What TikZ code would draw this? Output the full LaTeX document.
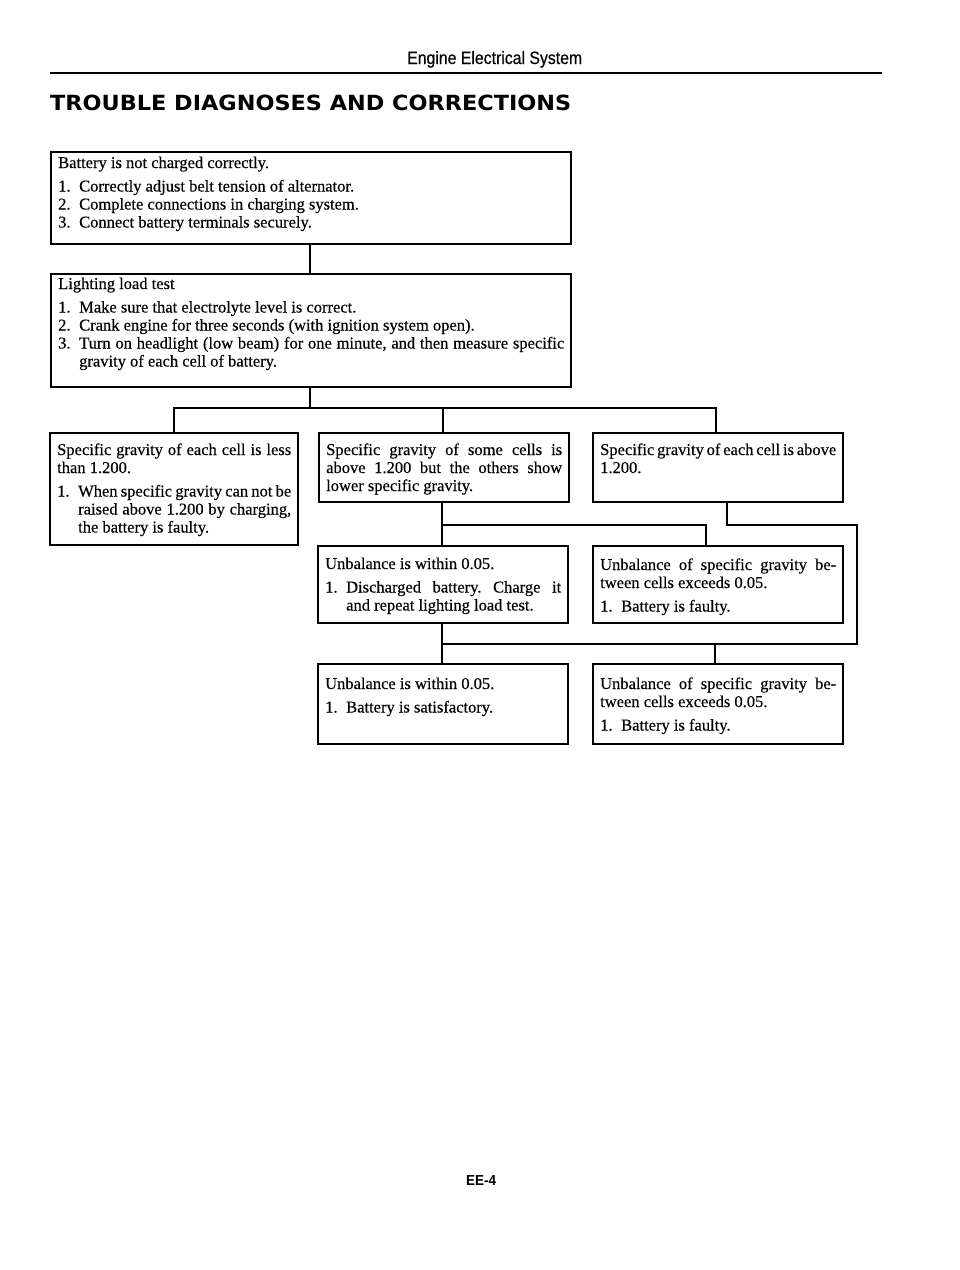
\documentclass[tikz,border=0pt]{standalone}
\usepackage{fontspec}
\setmainfont{Liberation Serif}[UprightFeatures={FakeBold=0.35}]
\newfontfamily\hdfont{Liberation Sans}[UprightFeatures={FakeBold=0.4}]
\newfontfamily\ttlfont{DejaVu Sans}
\usepackage{graphicx}
\frenchspacing

\newlength\numw \setlength\numw{21pt}
\newcommand\bodyfont{\fontsize{16.5}{18}\selectfont}
\newcommand\jl[1]{\hbox to \hsize{#1}}
\newcommand\rl[1]{\hbox to \hsize{#1\hfil}}
\newcommand\nm[1]{\makebox[\numw][l]{#1}}
\newcommand\ind{\hspace*{\numw}}
\newcommand\gap{\vskip 5.5pt}
\newcommand\tb[2]{\vtop{\hsize=#1\relax\bodyfont #2}}

\begin{document}
\begin{tikzpicture}[x=1pt,y=-1pt,
  box/.style={draw, line width=1.7pt, inner sep=0pt},
  txt/.style={inner sep=0pt, anchor=base west},
  conn/.style={line width=1.7pt}]
\useasboundingbox (0,0) rectangle (960,1270);

% header
\node[txt] (hd) at (407,64) {\resizebox{175pt}{13pt}{\hdfont Engine Electrical System}};
\coordinate (r1) at (50,73);
\coordinate (r2) at (882,73);
\draw[line width=2.5pt] (r1) -- (r2);
\node[txt] (ttl) at (50,110) {\resizebox{521pt}{15.5pt}{\ttlfont\bfseries TROUBLE DIAGNOSES AND CORRECTIONS}};

% boxes
\node[box, minimum width=520pt, minimum height=92pt]  (b1) at (311,198) {};
\node[box, minimum width=520pt, minimum height=113pt] (b2) at (311,330.5) {};
\node[box, minimum width=248pt, minimum height=112pt] (b3) at (174,489) {};
\node[box, minimum width=250pt, minimum height=69pt]  (b4) at (444,467.5) {};
\node[box, minimum width=250pt, minimum height=69pt]  (b5) at (718,467.5) {};
\node[box, minimum width=250pt, minimum height=77pt]  (b6) at (443,584.5) {};
\node[box, minimum width=250pt, minimum height=77pt]  (b7) at (718,584.5) {};
\node[box, minimum width=250pt, minimum height=80pt]  (b8) at (443,704) {};
\node[box, minimum width=250pt, minimum height=80pt]  (b9) at (718,704) {};

% texts
\node[txt] (t1) at (58,168) {\tb{506pt}{%
  \rl{Battery is not charged correctly.}\gap
  \rl{\nm{1.}Correctly adjust belt tension of alternator.}
  \rl{\nm{2.}Complete connections in charging system.}
  \rl{\nm{3.}Connect battery terminals securely.}}};
\node[txt] (t2) at (58,289) {\tb{506pt}{%
  \rl{Lighting load test}\gap
  \rl{\nm{1.}Make sure that electrolyte level is correct.}
  \rl{\nm{2.}Crank engine for three seconds (with ignition system open).}
  \jl{\nm{3.}Turn on headlight (low beam) for one minute, and then measure specific}
  \rl{\ind gravity of each cell of battery.}}};
\node[txt] (t3) at (57,455) {\tb{234pt}{%
  \jl{Specific gravity of each cell is less}
  \rl{than 1.200.}\gap
  \jl{\nm{1.}When specific gravity can not be}
  \jl{\ind raised above 1.200 by charging,}
  \rl{\ind the battery is faulty.}}};
\node[txt] (t4) at (326,455) {\tb{236pt}{%
  \jl{Specific gravity of some cells is}
  \jl{above 1.200 but the others show}
  \rl{lower specific gravity.}}};
\node[txt] (t5) at (600,455) {\tb{236pt}{%
  \jl{Specific gravity of each cell is above}
  \rl{1.200.}}};
\node[txt] (t6) at (325,569) {\tb{236pt}{%
  \rl{Unbalance is within 0.05.}\gap
  \jl{\nm{1.}Discharged battery. Charge it}
  \rl{\ind and repeat lighting load test.}}};
\node[txt] (t7) at (600,570) {\tb{236pt}{%
  \jl{Unbalance of specific gravity be-}
  \rl{tween cells exceeds 0.05.}\gap
  \rl{\nm{1.}Battery is faulty.}}};
\node[txt] (t8) at (325,689) {\tb{236pt}{%
  \rl{Unbalance is within 0.05.}\gap
  \rl{\nm{1.}Battery is satisfactory.}}};
\node[txt] (t9) at (600,689) {\tb{236pt}{%
  \jl{Unbalance of specific gravity be-}
  \rl{tween cells exceeds 0.05.}\gap
  \rl{\nm{1.}Battery is faulty.}}};

% connectors
\coordinate (p1) at (310,258);
\draw[conn] (b1.south -| p1) -- (b2.north -| p1);

\coordinate (bus1) at (310,408);
\coordinate (d3) at (174,408);
\coordinate (d4) at (443,408);
\coordinate (d5) at (716,408);
\draw[conn] (b2.south -| bus1) -- (bus1);
\draw[conn] (b3.north -| d3) -- (d3) -- (d5) -- (b5.north -| d5);
\draw[conn] (d4) -- (b4.north -| d4);

\coordinate (e6) at (442,525);
\coordinate (e7) at (706,525);
\draw[conn] (b4.south -| e6) -- (b6.north -| e6);
\draw[conn] (e6) -- (e7) -- (b7.north -| e7);

\coordinate (f1) at (727,525);
\coordinate (f2) at (857,525);
\coordinate (f3) at (857,644);
\coordinate (f4) at (442,644);
\coordinate (f5) at (715,644);
\draw[conn] (b5.south -| f1) -- (f1) -- (f2) -- (f3) -- (f4);
\draw[conn] (b6.south -| f4) -- (b8.north -| f4);
\draw[conn] (f5) -- (b9.north -| f5);

% page number
\node[txt] (pg) at (466,1185) {\resizebox{30pt}{10pt}{\hdfont\bfseries EE-4}};
\end{tikzpicture}
\end{document}
